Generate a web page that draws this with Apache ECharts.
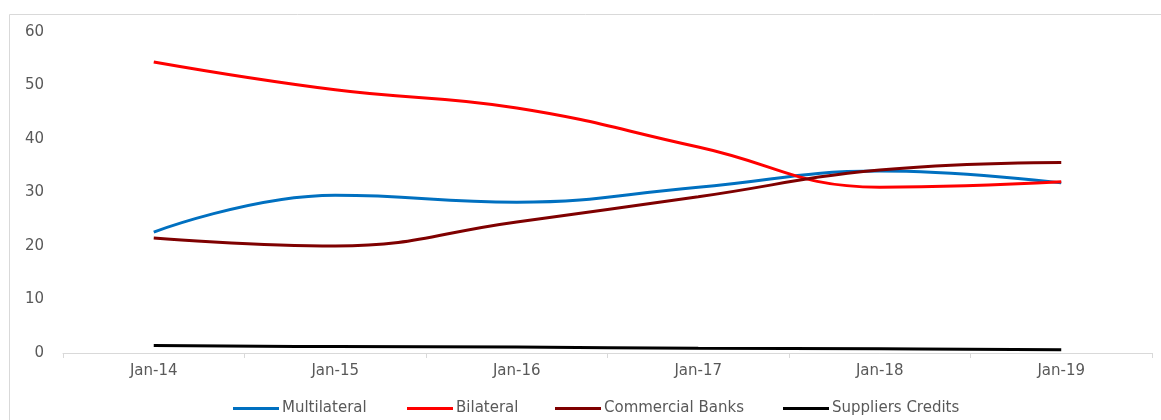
<!DOCTYPE html>
<html>
<head>
<meta charset="utf-8">
<script src="https://cdn.jsdelivr.net/npm/echarts@6/dist/echarts.min.js"></script>
<style>html,body{margin:0;padding:0;background:#fff;}#c{width:1161px;height:420px;}</style>
</head>
<body>
<div id="c"></div>
<script>
const categories = ['Jan-14','Jan-15','Jan-16','Jan-17','Jan-18','Jan-19'];
const multilateral = [22.6, 29.5, 28.2, 31.0, 34.0, 31.8];
const bilateral = [54.4, 49.2, 45.8, 38.5, 31.0, 32.0];
const commercialBanks = [21.5, 20.0, 24.5, 29.2, 34.2, 35.6];
const suppliersCredits = [1.4, 1.2, 1.1, 0.9, 0.8, 0.6];
const seriesNames = ['Multilateral', 'Bilateral', 'Commercial Banks', 'Suppliers Credits'];
const yTicks = [0, 60, 10];

const chart = echarts.init(document.getElementById('c'), null, {renderer: 'canvas'});
const font = 'DejaVu Sans';
const legendLefts = [228, 402, 550, 778];
function mk(name, data, color) {
  return {name, type: 'line', data, smooth: 0.45, symbol: 'none',
    lineStyle: {color, width: 3}, itemStyle: {color}};
}
chart.setOption({
  animation: false,
  graphic: [{type: 'rect', shape: {x: 9.5, y: 14.5, width: 1170, height: 430},
    style: {fill: 'none', stroke: '#d9d9d9', lineWidth: 1}, silent: true}],
  grid: {left: 63, right: 9, top: 32, bottom: 67},
  legend: seriesNames.map((n, i) => ({
    left: legendLefts[i], top: 396, icon: 'rect', itemWidth: 46, itemHeight: 3,
    textStyle: {fontFamily: font, fontSize: 15, color: '#595959', padding: [0, 0, 0, -2]},
    data: [n]
  })),
  xAxis: {
    type: 'category', data: categories, boundaryGap: true,
    axisLine: {lineStyle: {color: '#d9d9d9', width: 1}},
    axisTick: {show: true, length: 5, lineStyle: {color: '#d9d9d9'}},
    axisLabel: {fontFamily: font, fontSize: 15, color: '#595959', margin: 11}
  },
  yAxis: {
    type: 'value', min: yTicks[0], max: yTicks[1], interval: yTicks[2],
    axisLine: {show: false}, axisTick: {show: false}, splitLine: {show: false},
    axisLabel: {fontFamily: font, fontSize: 15, color: '#595959', margin: 19}
  },
  series: [
    mk(seriesNames[0], multilateral, '#0070C0'),
    mk(seriesNames[1], bilateral, '#FF0000'),
    mk(seriesNames[2], commercialBanks, '#7F0000'),
    mk(seriesNames[3], suppliersCredits, '#000000')
  ]
});
</script>
</body>
</html>
